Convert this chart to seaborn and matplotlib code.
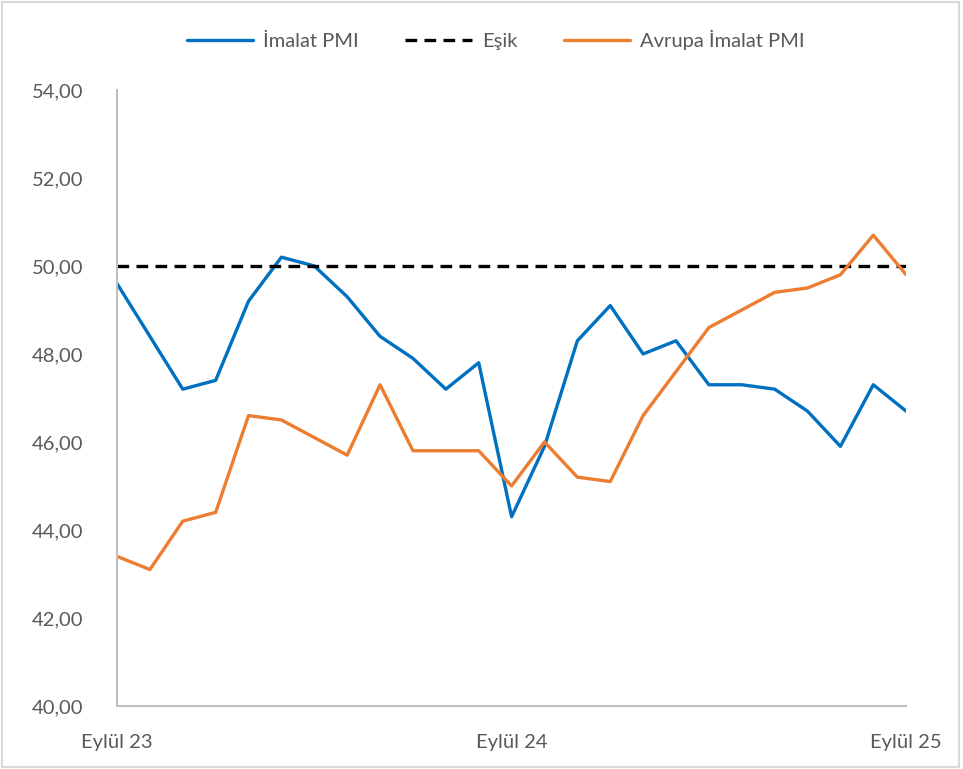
import matplotlib.pyplot as plt
import seaborn as sns
import pandas as pd
from matplotlib.patches import Rectangle

# ---------------------------------------------------------
# Data (monthly, Eylül 23 -> Eylül 25)
# ---------------------------------------------------------

months = list(range(25))

imalat_pmi = [
    49.6, 48.4, 47.2, 47.4, 49.2, 50.2, 50.0, 49.3, 48.4, 47.9,
    47.2, 47.8, 44.3, 45.9, 48.3, 49.1, 48.0, 48.3, 47.3, 47.3,
    47.2, 46.7, 45.9, 47.3, 46.7,
]

avrupa_pmi = [
    43.4, 43.1, 44.2, 44.4, 46.6, 46.5, 46.1, 45.7, 47.3, 45.8,
    45.8, 45.8, 45.0, 46.0, 45.2, 45.1, 46.6, 47.6, 48.6, 49.0,
    49.4, 49.5, 49.8, 50.7, 49.8,
]

esik = [50.0] * 25

tick_positions = [0, 12, 24]
tick_labels = ["Eylül 23", "Eylül 24", "Eylül 25"]

df = pd.DataFrame({
    "ay": months,
    "imalat": imalat_pmi,
    "esik": esik,
    "avrupa": avrupa_pmi,
})

# ---------------------------------------------------------
# Plot Style
# ---------------------------------------------------------

sns.set_style("white")
plt.rcParams["font.family"] = ["Lato", "DejaVu Sans"]

text_color = "#595959"

fig = plt.figure(figsize=(9.63, 7.69), dpi=100)
ax = fig.add_axes([0.1215, 0.082, 0.8195, 0.801])

sns.lineplot(data=df, x="ay", y="imalat", ax=ax, color="#0070C0",
             linewidth=2.4, label="İmalat PMI")
sns.lineplot(data=df, x="ay", y="esik", ax=ax, color="black",
             linewidth=2.4, linestyle=(0, (3.5, 2.2)), label="Eşik")
sns.lineplot(data=df, x="ay", y="avrupa", ax=ax, color="#ED7D31",
             linewidth=2.4, label="Avrupa İmalat PMI")

ax.set_xlim(0, 24)
ax.set_ylim(40, 54)
ax.set_yticks(range(40, 55, 2))
ax.set_yticklabels([f"{v:.2f}".replace(".", ",") for v in range(40, 55, 2)])
ax.set_xticks(tick_positions)
ax.set_xticklabels(tick_labels)
ax.tick_params(axis="both", length=0, labelsize=14.5, colors=text_color)
ax.tick_params(axis="y", pad=24)
ax.tick_params(axis="x", pad=20)
ax.set_xlabel("")
ax.set_ylabel("")

for side in ["top", "right"]:
    ax.spines[side].set_visible(False)
for side in ["left", "bottom"]:
    ax.spines[side].set_color("#BFBFBF")
    ax.spines[side].set_linewidth(1.5)

ax.legend(
    loc="center",
    bbox_to_anchor=(0.48, 1.081),
    ncol=3,
    frameon=False,
    fontsize=14.5,
    labelcolor=text_color,
    handlelength=3.3,
    handletextpad=0.5,
    columnspacing=2.3,
)

# outer chart border
fig.patches.append(Rectangle((0.002, 0.003), 0.994, 0.994, transform=fig.transFigure,
                             fill=False, edgecolor="#D9D9D9", linewidth=1.5))

fig.savefig("out.png", dpi=100)
plt.close()
